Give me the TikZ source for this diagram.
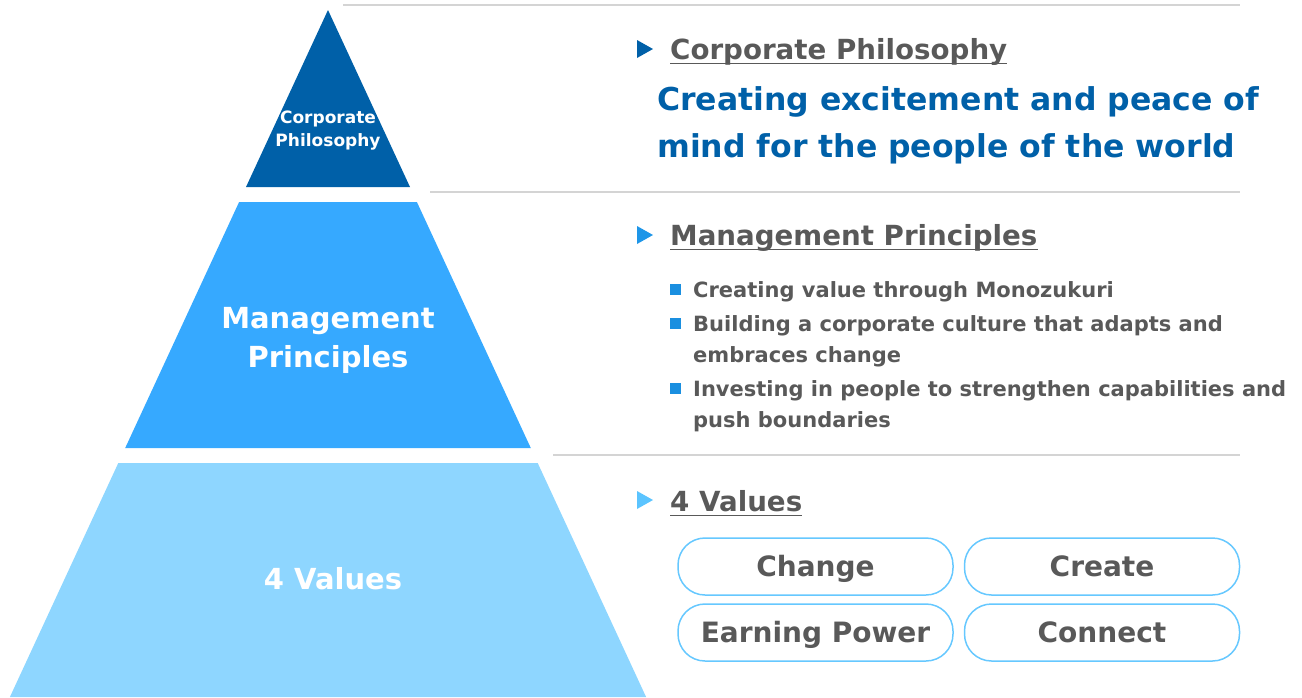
\documentclass[tikz,border=0pt]{standalone}
\usepackage{fontspec}
\setmainfont{DejaVu Sans}
\definecolor{dblue}{HTML}{0060A8}
\definecolor{mblue}{HTML}{36A9FF}
\definecolor{lblue}{HTML}{8ED6FF}
\definecolor{txtgray}{HTML}{595959}
\definecolor{rulegray}{HTML}{D4D4D4}
\definecolor{bulblue}{HTML}{1A8FE0}
\definecolor{arrmid}{HTML}{1E96E8}
\definecolor{arrlight}{HTML}{5BC4FF}
\definecolor{boxblue}{HTML}{66C8FF}
\begin{document}
\begin{tikzpicture}[x=1pt,y=-1pt,
  rulestyle/.style={draw=rulegray,line width=2pt},
  pyrtext/.style={text=white,font=\bfseries\fontsize{29}{39}\selectfont,align=center,inner sep=0pt},
  hdrtext/.style={anchor=base west,inner sep=0pt,text=txtgray,font=\bfseries\fontsize{27.7}{32}\selectfont},
  bultext/.style={anchor=base west,inner sep=0pt,text=txtgray,align=left,font=\bfseries\fontsize{21}{31}\selectfont},
  valbox/.style={draw=boxblue,line width=1.5pt,rounded corners=27pt,minimum width=275pt,minimum height=57pt,
     text height=20pt,text depth=0pt,inner sep=0pt,text=txtgray,font=\bfseries\fontsize{28}{32}\selectfont},
  ulin/.style={draw=txtgray,line width=1.8pt}]
\useasboundingbox (0,0) rectangle (1302,697);
% pyramid
\fill[dblue] (328,10) -- (410.0,187) -- (246.0,187) -- cycle;
\fill[mblue] (239.1,202) -- (416.9,202) -- (530.8,448) -- (125.2,448) -- cycle;
\fill[lblue] (118.3,463) -- (537.7,463) -- (646.1,697) -- (9.9,697) -- cycle;
\node[pyrtext,font=\bfseries\fontsize{17}{23}\selectfont] (pcp) at (328,131) {Corporate\\Philosophy};
\node[pyrtext] (pmp) at (328,340) {Management\\Principles};
\node[pyrtext] (pv) at (333,579) {4 Values};
% rules
\coordinate (r1a) at (343,5); \coordinate (r1b) at (1240,5);
\coordinate (r2a) at (430,192); \coordinate (r2b) at (1240,192);
\coordinate (r3a) at (553,455); \coordinate (r3b) at (1240,455);
\draw[rulestyle] (r1a) -- (r1b);
\draw[rulestyle] (r2a) -- (r2b);
\draw[rulestyle] (r3a) -- (r3b);
% section 1
\fill[dblue] (637,40) -- (653,49) -- (637,58) -- cycle;
\node[hdrtext] (h1) at (670,59) {Corporate Philosophy};
\draw[ulin] ([yshift=-4.5pt]h1.base west) -- ([yshift=-4.5pt]h1.base east);
\node[anchor=base west,inner sep=0pt,text=dblue,align=left,font=\bfseries\fontsize{31.5}{47}\selectfont] (phil) at (657,157)
  {Creating excitement and peace of\\mind for the people of the world};
% section 2
\fill[arrmid] (637,226) -- (653,235) -- (637,244) -- cycle;
\node[hdrtext] (h2) at (670,245) {Management Principles};
\draw[ulin] ([yshift=-4.5pt]h2.base west) -- ([yshift=-4.5pt]h2.base east);
\fill[bulblue] (670,283.5) rectangle (681,294.5);
\fill[bulblue] (670,317.5) rectangle (681,328.5);
\fill[bulblue] (670,382.5) rectangle (681,393.5);
\node[bultext] (b1) at (693,297) {Creating value through Monozukuri};
\node[bultext] (b2) at (693,362) {Building a corporate culture that adapts and\\embraces change};
\node[bultext] (b3) at (693,427) {Investing in people to strengthen capabilities and\\push boundaries};
% section 3
\fill[arrlight] (637,491) -- (653,500) -- (637,509) -- cycle;
\node[hdrtext] (h3) at (670,511) {4 Values};
\draw[ulin] ([yshift=-4.5pt]h3.base west) -- ([yshift=-4.5pt]h3.base east);
\node[valbox] (v1) at (815.5,566.5) {Change};
\node[valbox] (v2) at (1102,566.5) {Create};
\node[valbox] (v3) at (815.5,632.5) {Earning Power};
\node[valbox] (v4) at (1102,632.5) {Connect};
\end{tikzpicture}
\end{document}
